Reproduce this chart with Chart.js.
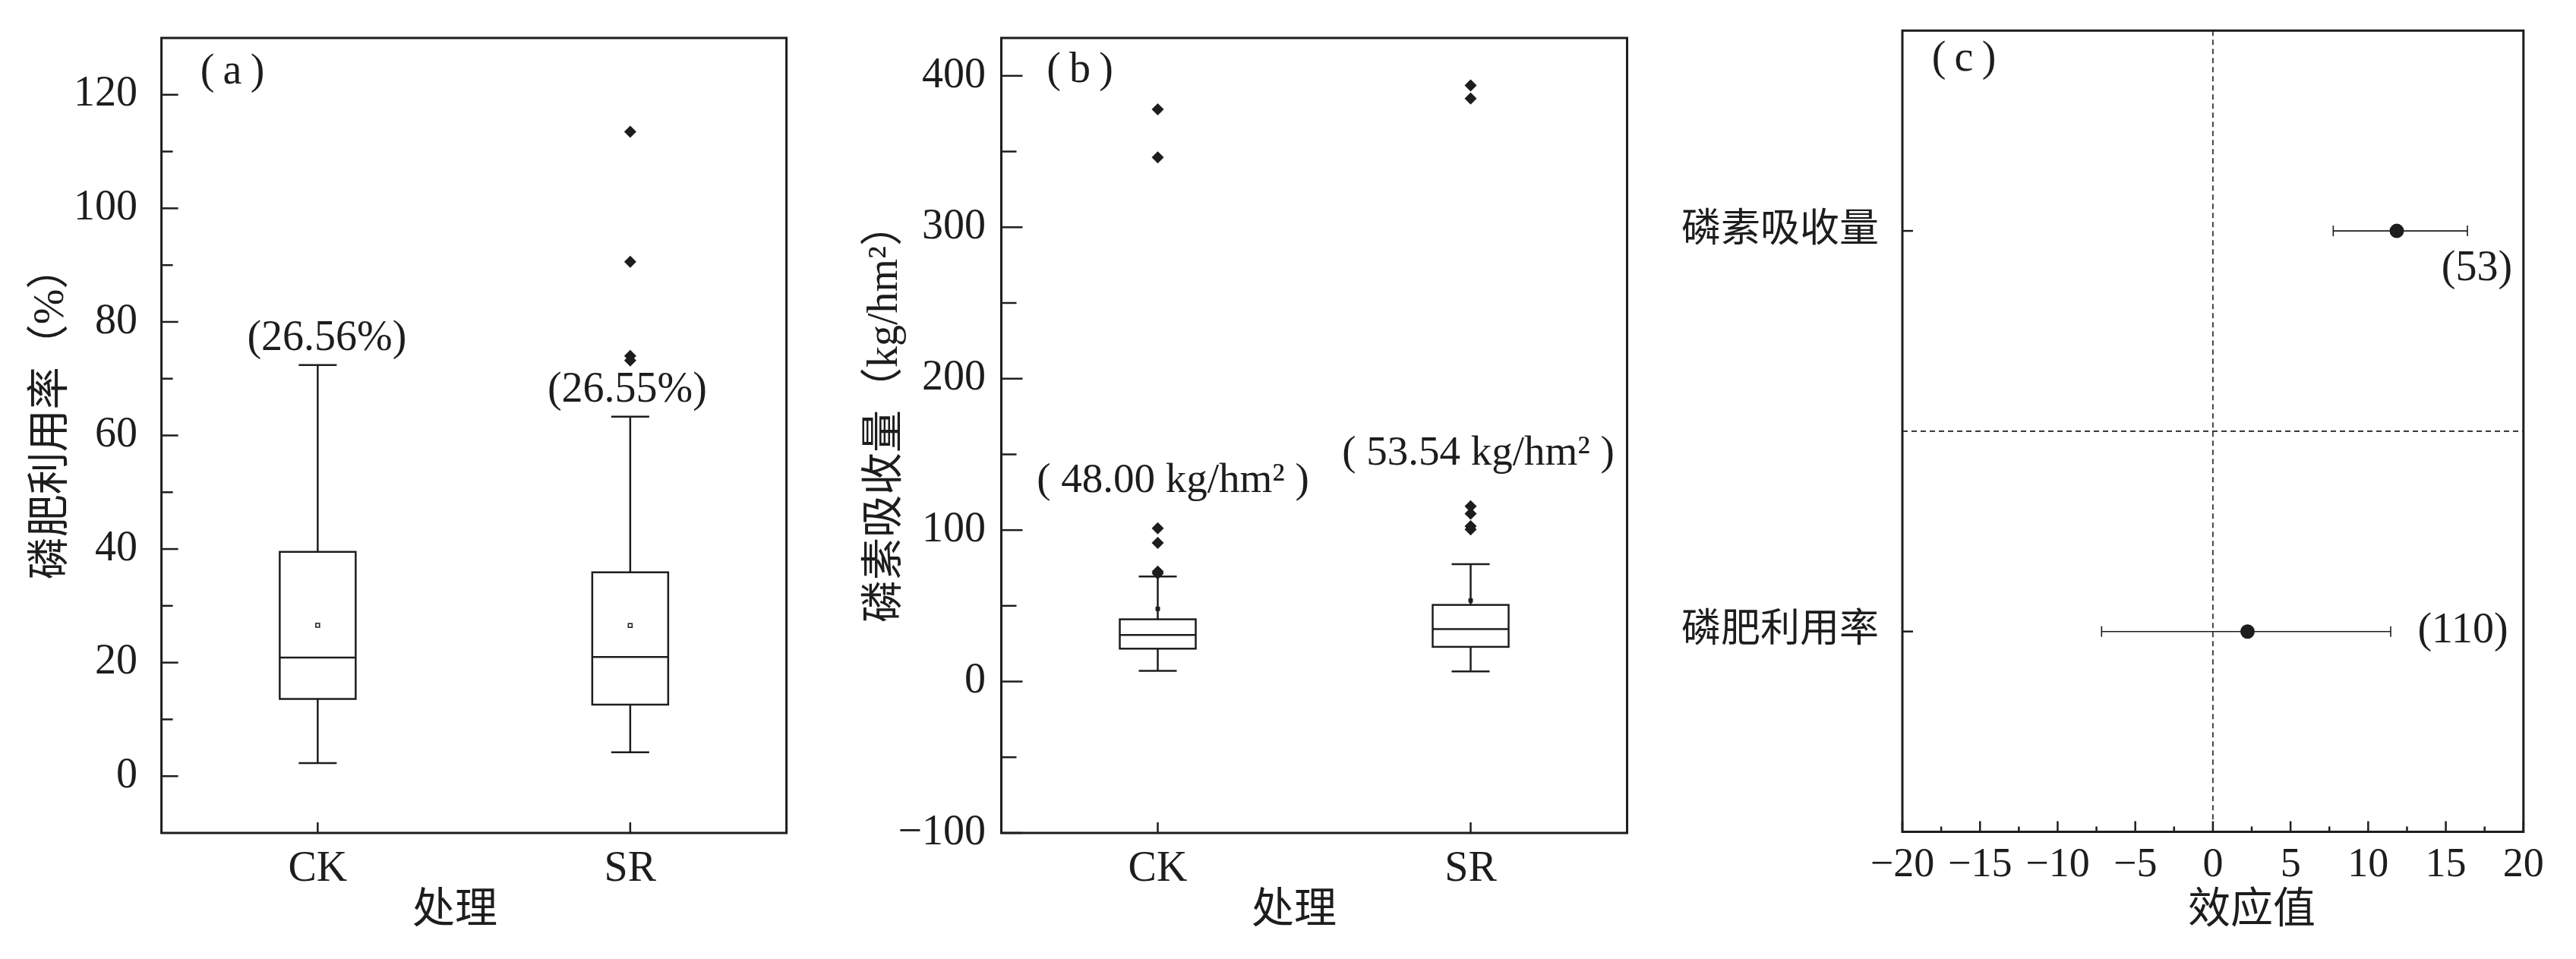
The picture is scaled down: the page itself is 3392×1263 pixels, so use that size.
<!doctype html>
<html lang="zh">
<head>
<meta charset="utf-8">
<title>磷肥利用率与磷素吸收量</title>
<style>
  * { margin: 0; padding: 0; }
  body { width: 3392px; height: 1263px; background: #fff; position: relative; overflow: hidden; }
  canvas { position: absolute; top: 0; }
  #chartA { left: 0; width: 1100px; height: 1263px; }
  #chartB { left: 1100px; width: 1100px; height: 1263px; }
  #chartC { left: 2200px; width: 1192px; height: 1263px; }
</style>
</head>
<body>
<canvas id="chartA" width="1100" height="1263"></canvas>
<canvas id="chartB" width="1100" height="1263"></canvas>
<canvas id="chartC" width="1192" height="1263"></canvas>
<script src="https://cdn.jsdelivr.net/npm/chart.js"></script>
<script>
// groups
const groups = ['CK', 'SR'];

// (a) 磷肥利用率 (%)
const aMin = [2.3, 4.2];
const aQ1 = [13.6, 12.6];
const aMed = [20.9, 21.0];
const aQ3 = [39.5, 35.9];
const aMax = [72.4, 63.3];
const aMean = [26.56, 26.55];
const aOutliers = [[], [113.5, 90.6, 74.0, 73.2]];
const aNotes = ['(26.56%)', '(26.55%)'];
const aYTicks = [0, 20, 40, 60, 80, 100, 120];

// (b) 磷素吸收量 (kg/hm2)
const bMin = [7.0, 6.7];
const bQ1 = [21.7, 22.9];
const bMed = [30.7, 34.6];
const bQ3 = [41.1, 50.6];
const bMax = [69.3, 77.5];
const bMean = [48.00, 53.54];
const bOutliers = [[377.9, 346.2, 101.2, 91.5, 72.6, 71.4], [393.7, 385.0, 115.7, 110.9, 102.6, 100.5]];
const bNotes = ['( 48.00 kg/hm\u00b2 )', '( 53.54 kg/hm\u00b2 )'];
const bYTicks = [-100, 0, 100, 200, 300, 400];

// (c) 效应值
const cItems = ['磷素吸收量', '磷肥利用率'];
const cMean = [11.84, 2.23];
const cLow = [7.75, -7.17];
const cHigh = [16.39, 11.45];
const cN = ['(53)', '(110)'];
const cXTicks = [-20, -15, -10, -5, 0, 5, 10, 15, 20];

const SERIF = '"Liberation Serif", "Noto Sans CJK SC", serif';
const INK = '#1d1d1d';
Chart.defaults.font.family = SERIF;
Chart.defaults.color = INK;
Chart.defaults.animation = false;

const fmt = v => v < 0 ? '\u2212' + Math.abs(v) : String(v);

function line(ctx, x1, y1, x2, y2) {
  ctx.beginPath();
  ctx.moveTo(x1, y1);
  ctx.lineTo(x2, y2);
  ctx.stroke();
}

// boxes, error bars, dashed guides, frame, inward ticks, texts
const panelPlugin = {
  id: 'panel',
  beforeDatasetsDraw(chart, args, o) {
    const ctx = chart.ctx, xs = chart.scales.x, ys = chart.scales.y;
    const {left, right, top, bottom} = chart.chartArea;
    ctx.save();
    ctx.strokeStyle = INK;
    if (o.dashed) {
      ctx.lineWidth = 1.6;
      ctx.setLineDash([7, 5]);
      o.dashed.x.forEach(v => { const p = xs.getPixelForValue(v); line(ctx, p, top, p, bottom); });
      o.dashed.y.forEach(v => { const p = ys.getPixelForValue(v); line(ctx, left, p, right, p); });
      ctx.setLineDash([]);
    }
    if (o.box) {
      const b = o.box;
      ctx.lineWidth = 2.5;
      b.med.forEach((m, i) => {
        const x = xs.getPixelForValue(i), w = b.width / 2, c = b.cap / 2;
        const yMax = ys.getPixelForValue(b.max[i]);
        const yQ3 = ys.getPixelForValue(b.q3[i]);
        const yMed = ys.getPixelForValue(m);
        const yQ1 = ys.getPixelForValue(b.q1[i]);
        const yMin = ys.getPixelForValue(b.min[i]);
        line(ctx, x, yMax, x, yQ3);
        line(ctx, x, yQ1, x, yMin);
        line(ctx, x - c, yMax, x + c, yMax);
        line(ctx, x - c, yMin, x + c, yMin);
        ctx.fillStyle = '#fff';
        ctx.fillRect(x - w, yQ3, 2 * w, yQ1 - yQ3);
        ctx.strokeRect(x - w, yQ3, 2 * w, yQ1 - yQ3);
        line(ctx, x - w, yMed, x + w, yMed);
      });
    }
    if (o.err) {
      const e = o.err;
      ctx.lineWidth = 1.6;
      e.low.forEach((lo, i) => {
        const y = ys.getPixelForValue(i);
        const x1 = xs.getPixelForValue(lo), x2 = xs.getPixelForValue(e.high[i]);
        line(ctx, x1, y, x2, y);
        line(ctx, x1, y - e.cap / 2, x1, y + e.cap / 2);
        line(ctx, x2, y - e.cap / 2, x2, y + e.cap / 2);
      });
    }
    ctx.restore();
  },
  afterDraw(chart, args, o) {
    const ctx = chart.ctx, xs = chart.scales.x, ys = chart.scales.y;
    const {left, right, top, bottom} = chart.chartArea;
    ctx.save();
    ctx.strokeStyle = INK;
    const t = o.ticks || {};
    ctx.lineWidth = 2.5;
    if (t.y) {
      const vals = ys.ticks.map(k => k.value);
      vals.forEach(v => { const p = ys.getPixelForValue(v); line(ctx, left, p, left + t.y.major, p); });
      if (t.y.minor) {
        for (let k = 0; k < vals.length - 1; k++) {
          const p = ys.getPixelForValue((vals[k] + vals[k + 1]) / 2);
          line(ctx, left, p, left + t.y.minor, p);
        }
      }
    }
    if (t.x) {
      const vals = xs.ticks.map(k => k.value);
      vals.forEach(v => { const p = xs.getPixelForValue(v); line(ctx, p, bottom, p, bottom - t.x.major); });
      if (t.x.minor) {
        for (let k = 0; k < vals.length - 1; k++) {
          const p = xs.getPixelForValue((vals[k] + vals[k + 1]) / 2);
          line(ctx, p, bottom, p, bottom - t.x.minor);
        }
      }
    }
    ctx.lineWidth = 3;
    ctx.strokeRect(left, top, right - left, bottom - top);

    ctx.fillStyle = INK;
    ctx.textAlign = 'center';
    ctx.textBaseline = 'middle';
    (o.texts || []).forEach(s => {
      ctx.save();
      ctx.font = `${s.size || 56}px ${SERIF}`;
      ctx.translate(s.x, s.y);
      if (s.rot) ctx.rotate(s.rot);
      ctx.fillText(s.t, 0, 0);
      ctx.restore();
    });
    (o.notes || []).forEach(n => {
      ctx.font = `${n.size || 56}px ${SERIF}`;
      const x = xs.getPixelForValue(n.x) + (n.dx || 0);
      const y = ys.getPixelForValue(n.y) + (n.dy || 0);
      ctx.fillText(n.t, x, y);
    });
    ctx.restore();
  }
};
Chart.register(panelPlugin);

function outlierPoints(lists) {
  return lists.flatMap((arr, i) => arr.map(v => ({x: i, y: v})));
}

function boxScales(yMin, yMax, yTicks, yWidth, yPad) {
  return {
    x: {
      type: 'linear', min: -0.5, max: 1.5,
      grid: {display: false}, border: {display: false},
      afterBuildTicks: s => { s.ticks = groups.map((g, i) => ({value: i})); },
      afterFit: s => { s.height = 166; s.paddingLeft = 0; s.paddingRight = 0; },
      ticks: {padding: 7, autoSkip: false, maxRotation: 0, font: {size: 56}, callback: v => groups[v]}
    },
    y: {
      type: 'linear', min: yMin, max: yMax,
      grid: {display: false}, border: {display: false},
      afterBuildTicks: s => { s.ticks = yTicks.map(v => ({value: v})); },
      afterFit: s => { s.width = yWidth; s.paddingTop = 0; s.paddingBottom = 0; },
      ticks: {padding: yPad, autoSkip: false, font: {size: 56}, callback: fmt}
    }
  };
}

const common = {
  responsive: false,
  devicePixelRatio: 1,
  events: []
};

// (a)
new Chart(document.getElementById('chartA'), {
  type: 'scatter',
  data: {
    datasets: [
      {data: outlierPoints(aOutliers), pointStyle: 'rectRot', radius: 8, backgroundColor: INK, borderWidth: 0},
      {data: aMean.map((v, i) => ({x: i, y: v})), pointStyle: 'rect', radius: 3.5,
       backgroundColor: '#fff', borderColor: INK, borderWidth: 1.5}
    ]
  },
  options: {
    ...common,
    layout: {padding: {top: 50, right: 64.4, left: 0, bottom: 0}},
    scales: boxScales(-10, 130, aYTicks, 212.6, 23.5),
    plugins: {
      legend: {display: false},
      tooltip: {enabled: false},
      panel: {
        box: {min: aMin, q1: aQ1, med: aMed, q3: aQ3, max: aMax, width: 100, cap: 50},
        ticks: {y: {major: 22, minor: 15}, x: {major: 14}},
        texts: [
          {t: '(\u2009a\u2009)', x: 306, y: 95},
          {t: '磷肥利用率（%）', x: 68.5, y: 544, rot: -Math.PI / 2},
          {t: '处理', x: 599, y: 1200}
        ],
        notes: [
          {t: aNotes[0], x: 0, y: aMax[0], dx: 12, dy: -34},
          {t: aNotes[1], x: 1, y: aMax[1], dx: -4, dy: -35}
        ]
      }
    }
  }
});

// (b)
new Chart(document.getElementById('chartB'), {
  type: 'scatter',
  data: {
    datasets: [
      {data: outlierPoints(bOutliers), pointStyle: 'rectRot', radius: 8, backgroundColor: INK, borderWidth: 0},
      {data: bMean.map((v, i) => ({x: i, y: v})), pointStyle: 'rect', radius: 3.5,
       backgroundColor: INK, borderColor: INK, borderWidth: 1}
    ]
  },
  options: {
    ...common,
    layout: {padding: {top: 50, right: 57.5, left: 0, bottom: 0}},
    scales: boxScales(-100, 425, bYTicks, 218.5, 12.5),
    plugins: {
      legend: {display: false},
      tooltip: {enabled: false},
      panel: {
        box: {min: bMin, q1: bQ1, med: bMed, q3: bQ3, max: bMax, width: 100, cap: 50},
        ticks: {y: {major: 28, minor: 20}, x: {major: 14}},
        texts: [
          {t: '(\u2009b\u2009)', x: 322, y: 93},
          {t: '磷素吸收量（kg/hm\u00b2）', x: 66, y: 544, rot: -Math.PI / 2},
          {t: '处理', x: 604, y: 1200}
        ],
        notes: [
          {t: bNotes[0], x: 0, y: bMax[0], dx: 20, dy: -126, size: 55},
          {t: bNotes[1], x: 1, y: bMax[1], dx: 10, dy: -145, size: 55}
        ]
      }
    }
  }
});

// (c)
new Chart(document.getElementById('chartC'), {
  type: 'scatter',
  data: {
    datasets: [
      {data: cMean.map((v, i) => ({x: v, y: i})), pointStyle: 'circle', radius: 9.5, backgroundColor: INK, borderWidth: 0}
    ]
  },
  options: {
    ...common,
    layout: {padding: {top: 40.3, right: 69.2, left: 0, bottom: 0}},
    scales: {
      x: {
        type: 'linear', min: -20, max: 20,
        grid: {display: false}, border: {display: false},
        afterBuildTicks: s => { s.ticks = cXTicks.map(v => ({value: v})); },
        afterFit: s => { s.height = 167.5; s.paddingLeft = 0; s.paddingRight = 0; },
        ticks: {padding: 4, autoSkip: false, maxRotation: 0, font: {size: 54}, callback: fmt}
      },
      y: {
        type: 'linear', min: -0.5, max: 1.5, reverse: true,
        grid: {display: false}, border: {display: false},
        afterBuildTicks: s => { s.ticks = cItems.map((n, i) => ({value: i})); },
        afterFit: s => { s.width = 305; s.paddingTop = 0; s.paddingBottom = 0; },
        ticks: {padding: 23, autoSkip: false, font: {size: 52}, callback: v => cItems[v]}
      }
    },
    plugins: {
      legend: {display: false},
      tooltip: {enabled: false},
      panel: {
        dashed: {x: [0], y: [0.5]},
        err: {low: cLow, high: cHigh, cap: 14},
        ticks: {y: {major: 14}, x: {major: 14, minor: 7}},
        texts: [
          {t: '(\u2009c\u2009)', x: 386, y: 78},
          {t: '效应值', x: 765, y: 1200}
        ],
        notes: [
          {t: cN[0], x: 17.0, y: 0, dy: 50},
          {t: cN[1], x: 16.1, y: 1}
        ]
      }
    }
  }
});
</script>
</body>
</html>
